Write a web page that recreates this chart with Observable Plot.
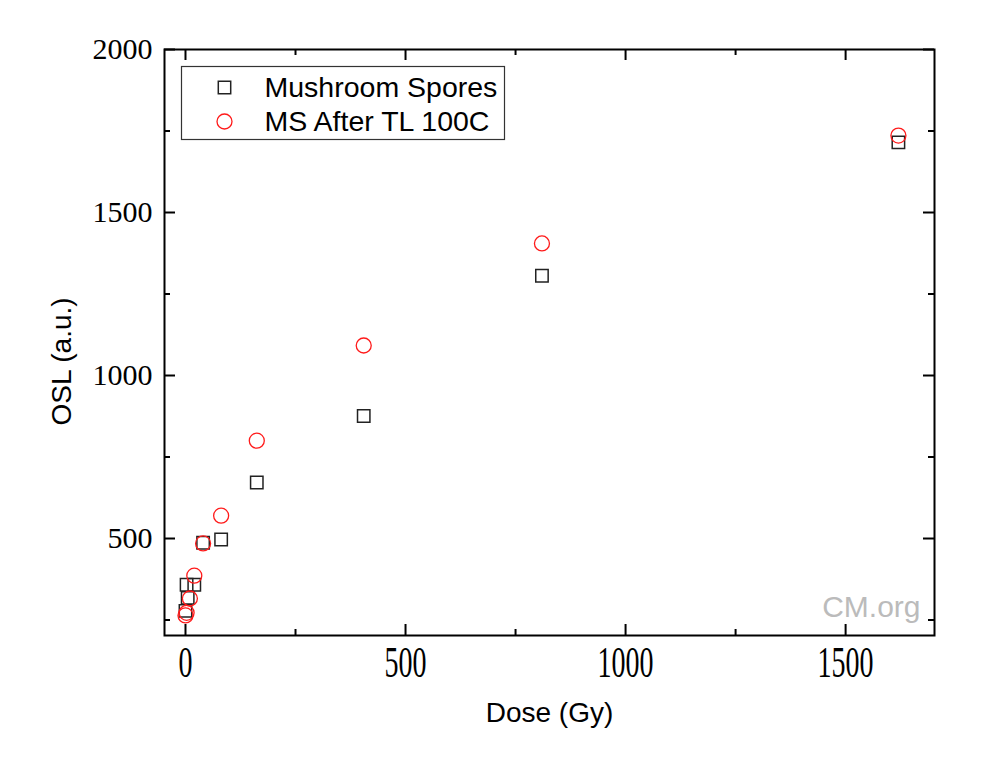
<!DOCTYPE html>
<html><head><meta charset="utf-8">
<script src="https://cdn.jsdelivr.net/npm/d3@7"></script>
<script src="https://cdn.jsdelivr.net/npm/@observablehq/plot@0.6"></script>
<style>body{margin:0;background:#fff}</style>
</head><body><div id="chart"></div>
<script>
// Data
const msDose = [0, 2.5, 5, 20, 40, 81, 162, 405, 810, 1620];
const msOSL  = [278, 358, 318, 358, 487, 497, 672, 876, 1306, 1715];
const tlDose = [0, 2.5, 10, 20, 40, 81, 162, 405, 810, 1620];
const tlOSL  = [264, 272, 316, 386, 485, 570, 800, 1092, 1405, 1736];
const seriesNames = ["Mushroom Spores", "MS After TL 100C"];
const xTicks = [0, 500, 1000, 1500];
const xMinor = [250, 750, 1250];
const yTicks = [500, 1000, 1500, 2000];
const yMinor = [250, 750, 1250, 1750];
const xLabel = "Dose (Gy)";
const yLabel = "OSL (a.u.)";
const watermark = "CM.org";

const W = 984, H = 767, mL = 164, mR = 50, mT = 49, mB = 132;
const iw = W - mL - mR, ih = H - mT - mB;
const major = 11, minor = 6;

const ms = msDose.map((d, i) => ({dose: d, osl: msOSL[i]}));
const tl = tlDose.map((d, i) => ({dose: d, osl: tlOSL[i]}));

const sans = "Liberation Sans, Arial, sans-serif";
const serif = "Liberation Serif, Times New Roman, serif";
const fmt = d3.format("d");

const plot = Plot.plot({
  width: W, height: H,
  marginLeft: mL, marginRight: mR, marginTop: mT, marginBottom: mB,
  style: {fontFamily: sans, background: "#fff", color: "#000", overflow: "visible"},
  x: {domain: [-47.7, 1702]},
  y: {domain: [202.5, 2000]},
  marks: [
    Plot.frame({stroke: "#000", strokeWidth: 2}),
    // inward ticks on all four sides
    Plot.tickY(yTicks, {y: d => d, insetRight: iw - major, stroke: "#000", strokeWidth: 2}),
    Plot.tickY(yTicks, {y: d => d, insetLeft: iw - major, stroke: "#000", strokeWidth: 2}),
    Plot.tickY(yMinor, {y: d => d, insetRight: iw - minor, stroke: "#000", strokeWidth: 2}),
    Plot.tickY(yMinor, {y: d => d, insetLeft: iw - minor, stroke: "#000", strokeWidth: 2}),
    Plot.tickX(xTicks, {x: d => d, insetTop: ih - major, stroke: "#000", strokeWidth: 2}),
    Plot.tickX(xTicks, {x: d => d, insetBottom: ih - major, stroke: "#000", strokeWidth: 2}),
    Plot.tickX(xMinor, {x: d => d, insetTop: ih - minor, stroke: "#000", strokeWidth: 2}),
    Plot.tickX(xMinor, {x: d => d, insetBottom: ih - minor, stroke: "#000", strokeWidth: 2}),
    Plot.axisX(xTicks, {tickSize: 0, tickPadding: 10, fontSize: 28, fontFamily: serif, label: null, tickFormat: fmt}),
    Plot.axisY(yTicks, {tickSize: 0, tickPadding: 12, fontSize: 30, fontFamily: serif, label: null, tickFormat: fmt}),
    Plot.text([xLabel], {text: d => d, frameAnchor: "bottom", dy: 78, lineAnchor: "middle", fontSize: 28, fontFamily: sans}),
    Plot.text([yLabel], {text: d => d, frameAnchor: "left", dx: -102, dy: 83, rotate: -90, lineAnchor: "middle", fontSize: 28, fontFamily: sans}),
    Plot.text([watermark], {text: d => d, frameAnchor: "bottom-right", dx: -14, dy: -28, textAnchor: "end", lineAnchor: "middle", fontSize: 30, fontFamily: sans, fill: "#bbb"}),
    // data
    Plot.dot(ms, {x: "dose", y: "osl", symbol: "square", r: 7, stroke: "#222", strokeWidth: 1.5}),
    Plot.dot(tl, {x: "dose", y: "osl", symbol: "circle", r: 7.5, stroke: "#ff1a1a", strokeWidth: 1.3}),
    // legend
    Plot.dot([seriesNames[0]], {frameAnchor: "top-left", dx: 60, dy: 38, symbol: "square", r: 7, stroke: "#222", strokeWidth: 1.5}),
    Plot.dot([seriesNames[1]], {frameAnchor: "top-left", dx: 60, dy: 72, symbol: "circle", r: 7.5, stroke: "#ff1a1a", strokeWidth: 1.3}),
    Plot.text([seriesNames[0]], {text: d => d, frameAnchor: "top-left", dx: 100, dy: 38, textAnchor: "start", lineAnchor: "middle", fontSize: 28.5, fontFamily: sans}),
    Plot.text([seriesNames[1]], {text: d => d, frameAnchor: "top-left", dx: 100, dy: 72, textAnchor: "start", lineAnchor: "middle", fontSize: 28.5, fontFamily: sans})
  ]
});

// legend box
d3.select(plot).append("rect")
  .attr("x", mL + 17.5).attr("y", mT + 17.5)
  .attr("width", 323).attr("height", 73)
  .attr("fill", "none").attr("stroke", "#333").attr("stroke-width", 1.2);

// stretch x tick labels vertically like the reference
d3.select(plot).selectAll('g[aria-label="x-axis tick label"] text').each(function() {
  const t = this.getAttribute("transform") || "";
  this.setAttribute("transform", t + " scale(1,1.6)");
});

document.getElementById("chart").append(plot);
</script>
</body></html>
